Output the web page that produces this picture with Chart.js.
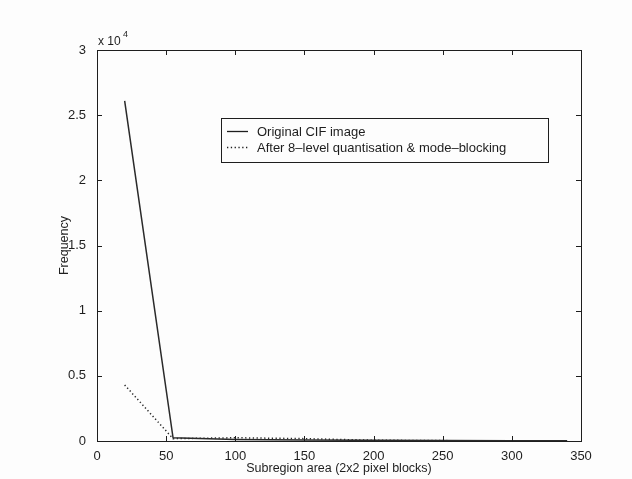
<!DOCTYPE html>
<html><head><meta charset="utf-8">
<script src="https://cdn.jsdelivr.net/npm/chart.js@4/dist/chart.umd.min.js"></script>
<style>html,body{margin:0;padding:0;background:#fdfdfd}#w{width:632px;height:479px}</style>
</head><body><div id="w"><canvas id="c"></canvas></div>
<script>
const areas = [20, 55, 100, 150, 200, 250, 300, 340];
const original = [26100, 250, 120, 80, 50, 30, 20, 10];
const quantised = [4300, 180, 250, 180, 60, 30, 10, 5];
const xTicks = [0, 50, 100, 150, 200, 250, 300, 350];
const yTicks = [0, 5000, 10000, 15000, 20000, 25000, 30000];
const seriesNames = ["Original CIF image", "After 8\u2013level quantisation & mode\u2013blocking"];
const FONT = "'Liberation Sans', Arial, sans-serif";
const INK = '#1e1e1e';

const frame = {
  id: 'frame',
  afterDraw(ch) {
    const c = ch.ctx, a = ch.chartArea, xs = ch.scales.x, ys = ch.scales.y;
    c.save();
    c.strokeStyle = INK; c.lineWidth = 1;
    c.strokeRect(Math.round(a.left)+0.5, Math.round(a.top)+0.5, Math.round(a.right-a.left), Math.round(a.bottom-a.top));
    c.beginPath();
    xTicks.forEach(v => { const p = Math.round(xs.getPixelForValue(v))+0.5;
      c.moveTo(p, a.bottom); c.lineTo(p, a.bottom-5); c.moveTo(p, a.top); c.lineTo(p, a.top+5); });
    yTicks.forEach(v => { const p = Math.round(ys.getPixelForValue(v))+0.5;
      c.moveTo(a.left, p); c.lineTo(a.left+5, p); c.moveTo(a.right, p); c.lineTo(a.right-5, p); });
    c.stroke();
    // exponent
    c.fillStyle = INK; c.font = '12px ' + FONT; c.textBaseline = 'alphabetic'; c.textAlign = 'left';
    c.fillText('x 10', a.left + 1, a.top - 5);
    c.font = '9px ' + FONT; c.fillText('4', a.left + 26, a.top - 13);
    // legend
    const lx = 221, ly = 118, lw = 327, lh = 44;
    c.fillStyle = '#fdfdfd'; c.fillRect(lx, ly, lw, lh);
    c.strokeStyle = INK; c.strokeRect(lx+0.5, ly+0.5, lw, lh);
    c.lineWidth = 1.3;
    c.beginPath(); c.moveTo(lx+6, ly+13.5); c.lineTo(lx+27, ly+13.5); c.stroke();
    c.setLineDash([1.3, 2.5]);
    c.beginPath(); c.moveTo(lx+6, ly+29.5); c.lineTo(lx+27, ly+29.5); c.stroke();
    c.setLineDash([]);
    c.fillStyle = INK; c.font = '13px ' + FONT; c.textBaseline = 'middle';
    c.fillText(seriesNames[0], lx+36, ly+14);
    c.fillText(seriesNames[1], lx+36, ly+30);
    c.restore();
  }
};

new Chart(document.getElementById('c'), {
  type: 'line',
  data: { datasets: [
    { label: seriesNames[0], data: areas.map((x,i)=>({x, y: original[i]})), borderColor: '#2a2a2a', borderWidth: 1.5, pointRadius: 0, tension: 0 },
    { label: seriesNames[1], data: areas.map((x,i)=>({x, y: quantised[i]})), borderColor: '#2a2a2a', borderWidth: 1.5, borderDash: [1.3, 2.5], pointRadius: 0, tension: 0 }
  ]},
  options: {
    responsive: true, maintainAspectRatio: false, animation: false,
    layout: { padding: { left: 57, right: 51, top: 50, bottom: 0 } },
    plugins: { legend: { display: false }, tooltip: { enabled: false } },
    scales: {
      x: { type: 'linear', min: 0, max: 350,
        afterBuildTicks: s => { s.ticks = xTicks.map(v => ({value: v})); },
        afterFit: s => { s.height = 38; },
        grid: { display: false }, border: { display: false },
        ticks: { color: INK, font: { family: FONT, size: 13 }, padding: 0, maxRotation: 0 },
        title: { display: true, text: 'Subregion area (2x2 pixel blocks)', color: INK, font: { family: FONT, size: 12.5 }, padding: { top: 0, bottom: 3 } } },
      y: { type: 'linear', min: 0, max: 30000,
        afterBuildTicks: s => { s.ticks = yTicks.map(v => ({value: v})); },
        afterFit: s => { s.width = 40; },
        grid: { display: false }, border: { display: false },
        ticks: { color: INK, font: { family: FONT, size: 13 }, padding: 3, callback: v => String(v/10000) },
        title: { display: true, text: 'Frequency', color: INK, font: { family: FONT, size: 12.5 }, padding: { top: 0, bottom: 0 } } }
    }
  },
  plugins: [frame]
});
</script></body></html>
